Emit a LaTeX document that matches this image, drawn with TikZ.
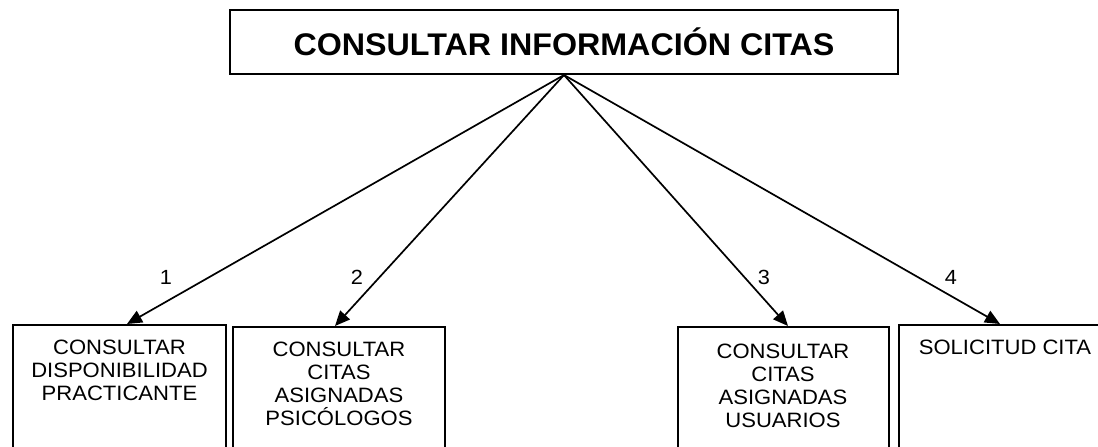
\documentclass[tikz,border=0pt]{standalone}
\usepackage{fontspec}
\setmainfont{Liberation Sans}
\newfontfamily\widefont[FakeStretch=1.06]{Liberation Sans}
\newfontfamily\titlefont[FakeStretch=1.03]{Liberation Sans}
\usetikzlibrary{arrows.meta}
\begin{document}
\begin{tikzpicture}[x=1pt,y=-1pt,
  boxstyle/.style={draw=black,line width=2pt,rectangle,inner sep=0pt},
  childbox/.style={boxstyle,anchor=north,minimum height=160pt},
  childtext/.style={anchor=north,inner sep=0pt,align=center,font=\widefont\fontsize{20.8}{23.2}\selectfont},
  conn/.style={line width=1.7pt,-{Triangle[length=15pt,width=13pt]}},
  numlabel/.style={inner sep=0pt,font=\widefont\fontsize{20.5}{22}\selectfont}]
\useasboundingbox (0,0) rectangle (1098,447);
\clip (0,0) rectangle (1098,447);
\node[boxstyle,minimum width=668pt,minimum height=64pt,font=\titlefont\fontsize{31.3}{36}\selectfont\bfseries] (top) at (564,42) {CONSULTAR INFORMACIÓN CITAS};
\node[childbox,minimum width=213pt] (b1) at (119.5,324) {};
\node[childbox,minimum width=212pt] (b2) at (339,326) {};
\node[childbox,minimum width=211pt] (b3) at (783,326) {};
\node[childbox,minimum width=230pt] (b4) at (1014,324) {};
\node[childtext] (t1) at (119.5,339.5) {CONSULTAR\\DISPONIBILIDAD\\PRACTICANTE};
\node[childtext] (t2) at (339,341.5) {CONSULTAR\\CITAS\\ASIGNADAS\\PSICÓLOGOS};
\node[childtext] (t3) at (783,343.5) {CONSULTAR\\CITAS\\ASIGNADAS\\USUARIOS};
\node[childtext] (t4) at (1005,339.5) {SOLICITUD CITA};
\draw[conn] (top.south) -- ([xshift=7.5pt]b1.north);
\draw[conn] (top.south) -- ([xshift=-4pt]b2.north);
\draw[conn] (top.south) -- ([xshift=5pt]b3.north);
\draw[conn] (top.south) -- ([xshift=-14pt]b4.north);
\node[numlabel] (l1) at (166,277) {1};
\node[numlabel] (l2) at (357,277) {2};
\node[numlabel] (l3) at (764,277) {3};
\node[numlabel] (l4) at (951,277) {4};
\end{tikzpicture}
\end{document}
